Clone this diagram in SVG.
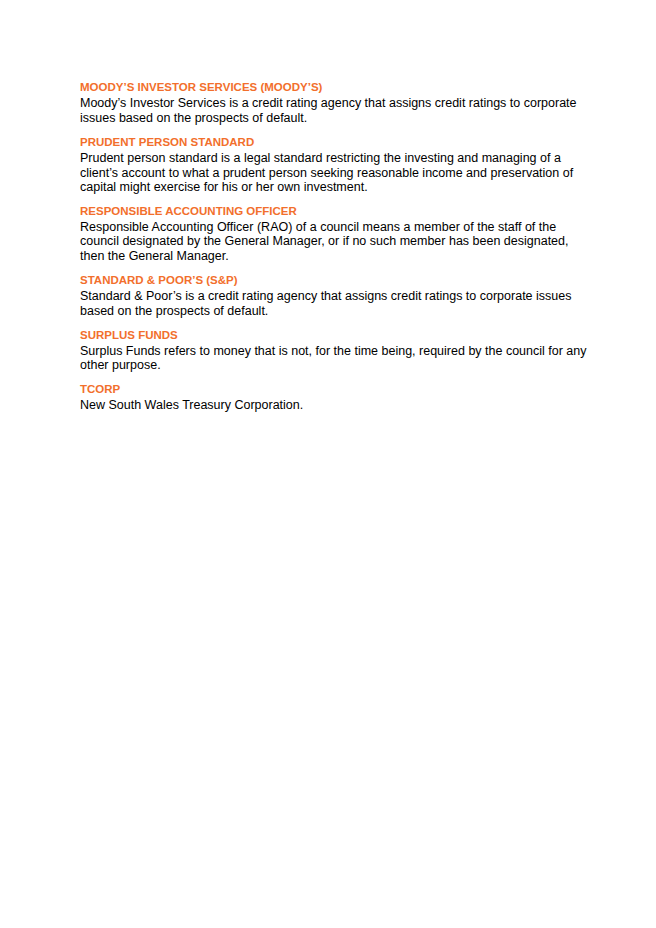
<svg xmlns="http://www.w3.org/2000/svg" width="656" height="928" viewBox="0 0 656 928">
<style>
.h{font-family:"Liberation Sans",Arial,sans-serif;font-weight:bold;font-size:11.5px;fill:#F26F2C}
.b{font-family:"Liberation Sans",Arial,sans-serif;font-size:12.5px;fill:#000}
</style>
<rect width="656" height="928" fill="#fff"/>
<g id="moodys"><text class="h" x="80" y="91">MOODY’S INVESTOR SERVICES (MOODY’S)</text>
<text class="b" x="80" y="107">Moody’s Investor Services is a credit rating agency that assigns credit ratings to corporate</text>
<text class="b" x="80" y="122">issues based on the prospects of default.</text></g>
<g id="prudent"><text class="h" x="80" y="146">PRUDENT PERSON STANDARD</text>
<text class="b" x="80" y="162">Prudent person standard is a legal standard restricting the investing and managing of a</text>
<text class="b" x="80" y="177">client’s account to what a prudent person seeking reasonable income and preservation of</text>
<text class="b" x="80" y="191">capital might exercise for his or her own investment.</text></g>
<g id="rao"><text class="h" x="80" y="215">RESPONSIBLE ACCOUNTING OFFICER</text>
<text class="b" x="80" y="231">Responsible Accounting Officer (RAO) of a council means a member of the staff of the</text>
<text class="b" x="80" y="245">council designated by the General Manager, or if no such member has been designated,</text>
<text class="b" x="80" y="260">then the General Manager.</text></g>
<g id="sp"><text class="h" x="80" y="284">STANDARD &amp; POOR’S (S&amp;P)</text>
<text class="b" x="80" y="300">Standard &amp; Poor’s is a credit rating agency that assigns credit ratings to corporate issues</text>
<text class="b" x="80" y="315">based on the prospects of default.</text></g>
<g id="surplus"><text class="h" x="80" y="339">SURPLUS FUNDS</text>
<text class="b" x="80" y="355">Surplus Funds refers to money that is not, for the time being, required by the council for any</text>
<text class="b" x="80" y="369">other purpose.</text></g>
<g id="tcorp"><text class="h" x="80" y="393">TCORP</text>
<text class="b" x="80" y="409">New South Wales Treasury Corporation.</text></g>
</svg>
